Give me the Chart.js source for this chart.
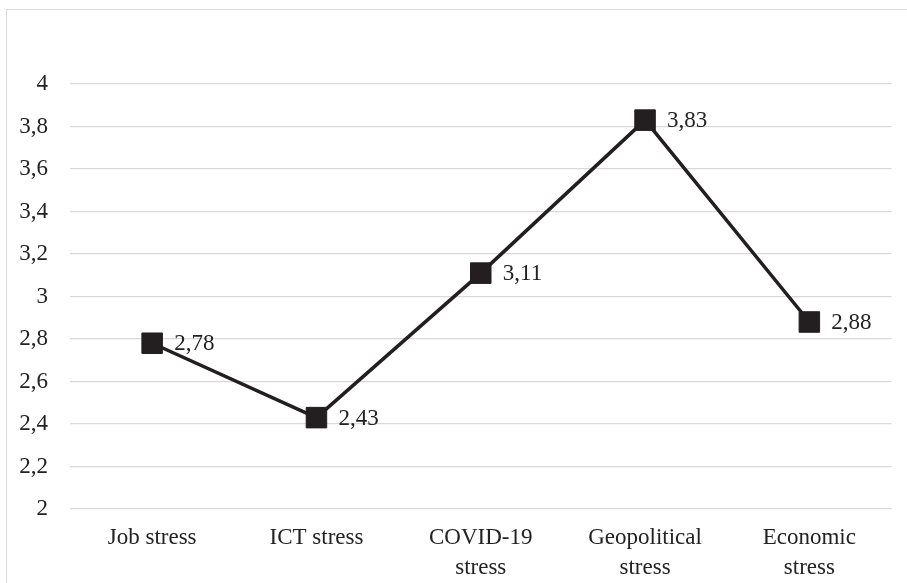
<!DOCTYPE html>
<html>
<head>
<meta charset="utf-8">
<script src="https://cdn.jsdelivr.net/npm/chart.js@4"></script>
<style>
    html, body { margin: 0; padding: 0; background: #fff; overflow: hidden; }
    #wrap { position: relative; width: 907px; height: 583px; }
    #frame { position: absolute; left: 6px; top: 9px; width: 920px; height: 600px; border: 1px solid #d9d9d9; box-sizing: border-box; }
    canvas { position: absolute; left: 0; top: 0; }
</style>
</head>
<body>
<div id="wrap">
    <div id="frame"></div>
    <canvas id="stress" width="907" height="583"></canvas>
</div>
<script>
var categories = [['Job stress'], ['ICT stress'], ['COVID-19', 'stress'], ['Geopolitical', 'stress'], ['Economic', 'stress']];
var stressValues = [2.78, 2.43, 3.11, 3.83, 2.88];
var yTicks = [2, 2.2, 2.4, 2.6, 2.8, 3, 3.2, 3.4, 3.6, 3.8, 4];

var serifFamily = "'Liberation Serif', 'Times New Roman', Times, serif";

function commaNum(v, digits) {
    return v.toFixed(digits).replace('.', ',');
}

// values written right of each marker
var valueLabels = {
    id: 'valueLabels',
    afterDatasetsDraw: function(chart) {
        var ctx = chart.ctx;
        var meta = chart.getDatasetMeta(0);
        ctx.save();
        ctx.font = '23px ' + serifFamily;
        ctx.fillStyle = '#222';
        ctx.textAlign = 'left';
        ctx.textBaseline = 'middle';
        meta.data.forEach(function(pt, i) {
            ctx.fillText(commaNum(stressValues[i], 2), pt.x + 22, pt.y + 1);
        });
        ctx.restore();
    }
};

var ctx = document.getElementById('stress');
var stressChart = new Chart(ctx, {
    type: 'line',
    data: {
        labels: categories,
        datasets: [{
            data: stressValues,
            borderColor: '#231f20',
            borderWidth: 3.5,
            pointStyle: 'rect',
            pointRadius: 14.5,
            pointBackgroundColor: '#231f20',
            pointBorderColor: '#231f20',
            pointBorderWidth: 1,
            tension: 0
        }]
    },
    options: {
        responsive: false,
        animation: false,
        devicePixelRatio: 1,
        layout: {
            padding: { top: 84, right: 8, left: 0, bottom: 0 }
        },
        plugins: {
            legend: { display: false },
            tooltip: { enabled: false }
        },
        scales: {
            x: {
                offset: true,
                grid: { display: false },
                border: { display: false },
                ticks: {
                    color: '#222',
                    padding: 6,
                    maxRotation: 0,
                    font: { family: serifFamily, size: 23, lineHeight: 1.3 }
                },
                afterFit: function(scale) { scale.height = 74; }
            },
            y: {
                min: 2,
                max: 4,
                afterBuildTicks: function(scale) {
                    scale.ticks = yTicks.map(function(v) { return { value: v }; });
                },
                grid: { color: '#d9d9d9', lineWidth: 1.3, drawTicks: false },
                border: { display: false },
                ticks: {
                    color: '#222',
                    padding: 22,
                    font: { family: serifFamily, size: 23 },
                    callback: function(v) { return String(Math.round(v * 10) / 10).replace('.', ','); }
                },
                afterFit: function(scale) { scale.width = 70; }
            }
        }
    },
    plugins: [valueLabels]
});
</script>
</body>
</html>
